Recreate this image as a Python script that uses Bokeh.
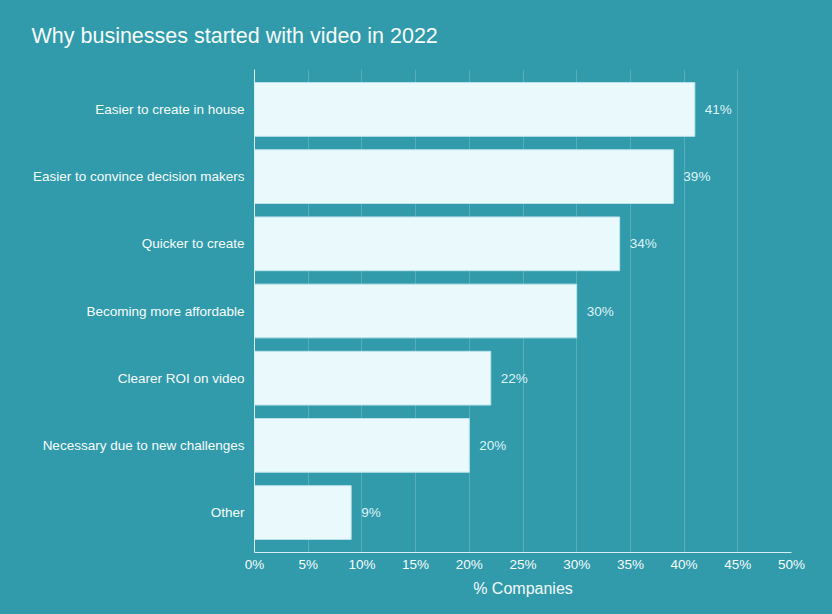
from bokeh.plotting import figure
from bokeh.models import ColumnDataSource, FactorRange, Range1d, NumeralTickFormatter, FixedTicker
from bokeh.embed import file_html
from bokeh.resources import INLINE
from bokeh.core.properties import value

categories = ["Easier to create in house", "Easier to convince decision makers", "Quicker to create",
              "Becoming more affordable", "Clearer ROI on video", "Necessary due to new challenges", "Other"]
values = [41, 39, 34, 30, 22, 20, 9]
x_ticks = [0, 5, 10, 15, 20, 25, 30, 35, 40, 45, 50]

BG = "#319aab"
FONT = "Liberation Sans"

src = ColumnDataSource(dict(cat=categories, val=values, lab=[f"{v}%" for v in values]))

p = figure(width=832, height=614, output_backend="svg", toolbar_location=None,
           y_range=FactorRange(factors=list(reversed(categories)), range_padding=0.027),
           x_range=Range1d(0, 50),
           min_border_left=254, min_border_right=41, min_border_top=69, min_border_bottom=62)
p.background_fill_color = BG
p.border_fill_color = BG
p.outline_line_color = None

p.title.text = "Why businesses started with video in 2022"
p.title.text_font = FONT
p.title.text_font_size = "21.5px"
p.title.text_font_style = "normal"
p.title.text_color = "#f6fcfd"
p.title.align = "left"
p.title.offset = -223
p.title.standoff = 43

p.hbar(y="cat", right="val", left=0, height=0.80, source=src,
       fill_color="#eaf9fc", line_color="#bde3ea", line_width=1)
p.text(x="val", y="cat", text="lab", source=src, x_offset=10, text_baseline="middle",
       text_font=value(FONT), text_font_size="13.5px", text_color="#def4f8")

p.xgrid.grid_line_color = "#55adba"
p.xgrid.ticker = FixedTicker(ticks=x_ticks)
p.ygrid.grid_line_color = None

p.xaxis.ticker = FixedTicker(ticks=x_ticks)
p.xaxis.formatter = NumeralTickFormatter(format="0")
p.xaxis.major_label_overrides = {t: f"{t}%" for t in x_ticks}
p.xaxis.axis_label = "% Companies"
p.xaxis.axis_label_text_font = FONT
p.xaxis.axis_label_text_font_style = "normal"
p.xaxis.axis_label_text_font_size = "16px"
p.xaxis.axis_label_text_color = "#f2fbfd"
p.xaxis.axis_label_standoff = 5

for ax in (p.xaxis, p.yaxis):
    ax.axis_line_color = "#d6eef2"
    ax.axis_line_width = 1
    ax.major_tick_line_color = None
    ax.minor_tick_line_color = None
    ax.major_tick_out = 0
    ax.major_tick_in = 0
    ax.minor_tick_out = 0
    ax.major_label_text_font = FONT
    ax.major_label_text_font_size = "13.5px"
    ax.major_label_text_color = "#f6fcfd"
p.xaxis.major_label_standoff = 4
p.yaxis.major_label_standoff = 10

html = file_html(p, INLINE)
html = html.replace("<head>", "<head><style>body{background:%s;}</style>" % BG, 1)
open("out.html", "w").write(html)
